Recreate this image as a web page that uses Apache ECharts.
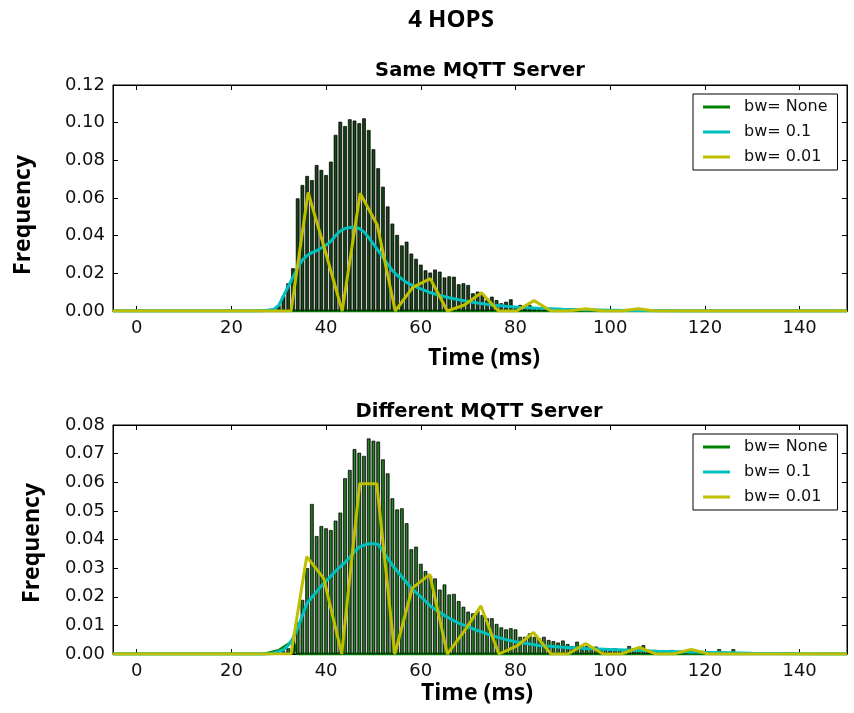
<!DOCTYPE html>
<html>
<head>
<meta charset="utf-8">
<script src="https://cdn.jsdelivr.net/npm/echarts@6/dist/echarts.min.js"></script>
<style>
html,body{margin:0;padding:0;background:#fff;}
#chart{width:854px;height:713px;}
</style>
</head>
<body>
<div id="chart"></div>
<script>
// ---------- data ----------
const xTickValues = [0, 20, 40, 60, 80, 100, 120, 140];
const legendNames = ['bw= None', 'bw= 0.1', 'bw= 0.01'];

// Same MQTT Server: histogram [time ms, frequency]
const sameHist = [
  [28,0.0005],[29,0.001],[30,0.003],[31,0.008],[32,0.0147],[33,0.0227],[34,0.0598],[35,0.0669],
  [36,0.0717],[37,0.0695],[38,0.0775],[39,0.0749],[40,0.0722],[41,0.0793],[42,0.0935],[43,0.1005],
  [44,0.0982],[45,0.1018],[46,0.1011],[47,0.0997],[48,0.1023],[49,0.0961],[50,0.0859],[51,0.0758],
  [52,0.066],[53,0.0555],[54,0.0464],[55,0.0404],[56,0.0348],[57,0.0368],[58,0.0305],[59,0.0277],
  [60,0.0246],[61,0.0216],[62,0.0204],[63,0.022],[64,0.0209],[65,0.0178],[66,0.0184],[67,0.0182],
  [68,0.0142],[69,0.0147],[70,0.0138],[71,0.0094],[72,0.0103],[73,0.0085],[74,0.0058],[75,0.0076],
  [76,0.0058],[77,0.0041],[78,0.0049],[79,0.0062],[80,0.0023],[81,0.0032],[82,0.0014],[83,0.0032],
  [84,0.002],[85,0.0018],[86,0.001],[87,0.0015],[88,0.0008],[89,0.001],[90,0.0006],[91,0.0012],
  [92,0.0004],[93,0.0008],[94,0.0003],[95,0.0005],[96,0.0003],[97,0.0004],[98,0.0002],[100,0.0003],
  [103,0.0002],[106,0.0002]
];
const sameBwNone = [[-5,0],[150,0]];
const sameBw01 = [
  [-5,0],[26,0],[28,0.0005],[29,0.001],[30,0.003],[31,0.008],[32,0.013],[33,0.018],[34,0.023],
  [35,0.027],[36,0.0295],[37,0.031],[38,0.032],[39,0.0335],[40,0.035],[41,0.037],[42,0.04],
  [43,0.0425],[44,0.0438],[45,0.0443],[46,0.0445],[47,0.0438],[48,0.042],[49,0.039],[50,0.0355],
  [51,0.032],[52,0.0285],[53,0.025],[54,0.0215],[55,0.019],[56,0.017],[57,0.0152],[58,0.0138],
  [59,0.0128],[60,0.0118],[62,0.0098],[64,0.0082],[66,0.007],[68,0.006],[70,0.005],[72,0.0042],
  [75,0.0032],[78,0.0025],[81,0.0019],[85,0.0014],[90,0.0009],[95,0.0006],[100,0.0004],
  [105,0.0002],[110,0.0001],[115,0],[150,0]
];
const sameBw001 = [
  [-5,0],[32.6,0],[36.2,0.063],[39.8,0.032],[43.4,0],[47.2,0.0625],[50.8,0.0457],[54.6,0],
  [58.3,0.0125],[62.0,0.0172],[65.6,0],[69.2,0.0032],[72.8,0.0097],[76.4,0],[80.2,0],[83.9,0.0055],
  [87.5,0],[91.1,0],[94.8,0.0012],[98.5,0],[102.2,0],[105.9,0.0012],[109.5,0],[150,0]
];

// Different MQTT Server
const diffHist = [
  [31,0.001],[32,0.002],[33,0.0055],[34,0.011],[35,0.0189],[36,0.030],[37,0.0524],[38,0.0412],
  [39,0.0447],[40,0.0439],[41,0.0433],[42,0.0466],[43,0.0494],[44,0.0614],[45,0.0643],[46,0.0716],
  [47,0.0703],[48,0.0692],[49,0.0753],[50,0.0745],[51,0.0742],[52,0.068],[53,0.0631],[54,0.0544],
  [55,0.0505],[56,0.0509],[57,0.0457],[58,0.0366],[59,0.0375],[60,0.0315],[61,0.029],[62,0.0273],
  [63,0.0264],[64,0.0225],[65,0.0243],[66,0.0208],[67,0.021],[68,0.0185],[69,0.0165],[70,0.0148],
  [71,0.0142],[72,0.015],[73,0.0136],[74,0.0125],[75,0.0125],[76,0.0105],[77,0.0093],[78,0.0086],
  [79,0.009],[80,0.0086],[81,0.006],[82,0.006],[83,0.0072],[84,0.006],[85,0.0055],[86,0.006],
  [87,0.0049],[88,0.0045],[89,0.004],[90,0.0047],[91,0.0035],[92,0.0028],[93,0.0043],[94,0.0031],
  [95,0.0028],[96,0.0026],[97,0.0026],[98,0.002],[99,0.0015],[100,0.0012],[101,0.002],[102,0.0014],
  [103,0.001],[104,0.0028],[105,0.002],[106,0.0012],[107,0.0031],[108,0.0014],[109,0.0008],
  [110,0.0006],[111,0.0008],[112,0.0005],[113,0.0014],[114,0.0005],[116,0.0014],[118,0.0006],
  [120,0.0004],[123,0.0017],[126,0.0017]
];
const diffBwNone = [[-5,0],[27,0],[30,0.0012],[33,0.0045],[34,0],[150,0]];
const diffBw01 = [
  [-5,0],[28,0],[30,0.0008],[31,0.0015],[32,0.003],[33,0.0055],[34,0.009],[35,0.0135],[36,0.0178],
  [37,0.0198],[38,0.0218],[39,0.0238],[40,0.0255],[41,0.0272],[42,0.029],[43,0.0305],[44,0.032],
  [45,0.0338],[46,0.0358],[47,0.0373],[48,0.038],[49,0.0385],[50,0.0385],[51,0.0383],[52,0.036],
  [53,0.0335],[54,0.031],[55,0.029],[56,0.027],[57,0.025],[58,0.023],[60,0.02],[62,0.0168],
  [64,0.0145],[66,0.0125],[68,0.0108],[70,0.0095],[72,0.0082],[74,0.007],[76,0.006],[78,0.005],
  [80,0.0043],[85,0.003],[90,0.0024],[95,0.0019],[100,0.0016],[105,0.0013],[110,0.001],
  [120,0.0006],[130,0.0003],[140,0.0001],[150,0]
];
const diffBw001 = [
  [-5,0],[29,0],[32.6,0],[35.9,0.034],[39.5,0.0264],[43.3,0],[47.1,0.0595],[50.7,0.0595],[54.5,0],
  [58.2,0.023],[61.9,0.0278],[65.6,0],[69.1,0.0078],[72.7,0.0168],[76.5,0],[80.3,0.0028],
  [83.8,0.0075],[87.5,0],[91.1,0],[94.8,0.0037],[98.5,0],[102.3,0],[106.1,0.0023],[109.7,0],
  [113.3,0],[117.1,0.0016],[120.8,0],[150,0]
];

// ---------- styling ----------
const GREEN = '#008000', CYAN = '#00bfbf', YELLOW = '#bfbf00';
const TICK_FONT = 'DejaVu Sans';
const grids = [
  {left: 113, top: 85, width: 734, height: 226},
  {left: 113, top: 425, width: 734, height: 229}
];
const yMax = [0.12, 0.08];
const yInt = [0.02, 0.01];

function barGrad(center) {
  return {type: 'linear', x: 0, y: 0, x2: 1, y2: 0,
    colorStops: [{offset: 0, color: '#041804'}, {offset: 0.5, color: center}, {offset: 1, color: '#041804'}]};
}

const xAxes = [], yAxes = [];
[0, 1].forEach(g => {
  xAxes.push({
    gridIndex: g, type: 'value', min: -5, max: 150, position: 'bottom',
    axisLine: {show: true, onZero: false, lineStyle: {color: '#000', width: 1}},
    axisTick: {show: true, inside: true, length: 5, customValues: xTickValues, lineStyle: {color: '#000'}},
    axisLabel: {show: true, customValues: xTickValues, margin: 8, fontFamily: TICK_FONT, fontSize: 18, color: '#111'},
    splitLine: {show: false}
  });
  xAxes.push({
    gridIndex: g, type: 'value', min: -5, max: 150, position: 'top',
    axisLine: {show: true, onZero: false, lineStyle: {color: '#000', width: 1}},
    axisTick: {show: true, inside: true, length: 5, customValues: xTickValues, lineStyle: {color: '#000'}},
    axisLabel: {show: false}, splitLine: {show: false}
  });
  yAxes.push({
    gridIndex: g, type: 'value', min: 0, max: yMax[g], interval: yInt[g], position: 'left',
    axisLine: {show: true, onZero: false, lineStyle: {color: '#000', width: 1}},
    axisTick: {show: true, inside: true, length: 5, lineStyle: {color: '#000'}},
    axisLabel: {show: true, margin: 8, fontFamily: TICK_FONT, fontSize: 18, color: '#111',
      formatter: v => v.toFixed(2)},
    splitLine: {show: false}
  });
  yAxes.push({
    gridIndex: g, type: 'value', min: 0, max: yMax[g], interval: yInt[g], position: 'right',
    axisLine: {show: true, onZero: false, lineStyle: {color: '#000', width: 1}},
    axisTick: {show: true, inside: true, length: 5, lineStyle: {color: '#000'}},
    axisLabel: {show: false}, splitLine: {show: false}
  });
});

function lineSeries(name, data, color, g, z) {
  return {
    name: name, type: 'line', data: data, xAxisIndex: g * 2, yAxisIndex: g * 2,
    showSymbol: false, symbol: 'none', color: color, z: z, animation: false,
    lineStyle: {color: color, width: 3}, itemStyle: {color: color}
  };
}
function barSeries(data, g, center) {
  return {
    type: 'bar', data: data, xAxisIndex: g * 2, yAxisIndex: g * 2, barWidth: 3.7, z: 2,
    animation: false,
    itemStyle: {color: barGrad(center), borderColor: '#000', borderWidth: 0.7}
  };
}

const series = [
  lineSeries(legendNames[0], sameBwNone, GREEN, 0, 1),
  barSeries(sameHist, 0, '#184e18'),
  lineSeries(legendNames[1], sameBw01, CYAN, 0, 3),
  lineSeries(legendNames[2], sameBw001, YELLOW, 0, 4),
  lineSeries(legendNames[0], diffBwNone, GREEN, 1, 1),
  barSeries(diffHist, 1, '#2a8f2a'),
  lineSeries(legendNames[1], diffBw01, CYAN, 1, 3),
  lineSeries(legendNames[2], diffBw001, YELLOW, 1, 4)
];

function legendAt(top) {
  return {
    data: legendNames, orient: 'vertical', left: 693, top: top,
    icon: 'rect', itemWidth: 27, itemHeight: 3, itemGap: 7,
    padding: [4, 10, 4, 10], borderColor: '#000', borderWidth: 1, backgroundColor: '#fff',
    selectedMode: false, z: 10,
    textStyle: {fontFamily: TICK_FONT, fontSize: 16, color: '#111', lineHeight: 18, padding: [0, 0, 0, 9]}
  };
}

function txt(text, x, y, font, rot) {
  return {type: 'text', x: x, y: y, rotation: rot || 0, z: 100,
    style: {text: text, font: font, fill: '#000', align: 'center', verticalAlign: 'middle',
      textAlign: 'center', textVerticalAlign: 'middle'}};
}

const option = {
  animation: false,
  backgroundColor: '#fff',
  grid: grids.map(g => Object.assign({show: true, borderColor: '#000', borderWidth: 1, backgroundColor: 'transparent'}, g)),
  xAxis: xAxes,
  yAxis: yAxes,
  legend: [legendAt(94), legendAt(434)],
  series: series,
  graphic: [
    txt('4 HOPS', 451, 20, 'bold 24px "Open Sans"'),
    txt('Same MQTT Server', 480, 71, 'bold 19.5px "DejaVu Sans"'),
    txt('Different MQTT Server', 479, 412, 'bold 19.5px "DejaVu Sans"'),
    txt('Time (ms)', 484, 358, 'bold 23px "Open Sans"'),
    txt('Time (ms)', 477, 693, 'bold 23px "Open Sans"'),
    txt('Frequency', 23, 215, 'bold 23px "Open Sans"', Math.PI / 2),
    txt('Frequency', 32, 543, 'bold 23px "Open Sans"', Math.PI / 2)
  ]
};

const chart = echarts.init(document.getElementById('chart'), null, {renderer: 'canvas'});
chart.setOption(option);
</script>
</body>
</html>
